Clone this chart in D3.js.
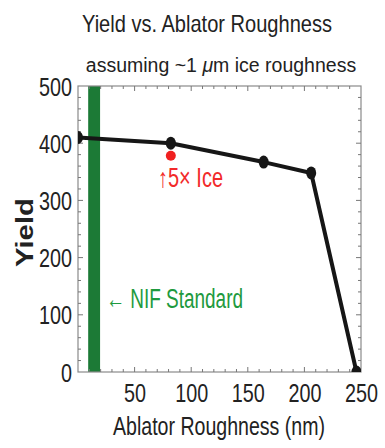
<!DOCTYPE html>
<html>
<head>
<meta charset="utf-8">
<script src="https://cdn.jsdelivr.net/npm/d3@7"></script>
<style>
  body { margin: 0; background: #fff; }
  text { font-family: "Liberation Sans", Arial, sans-serif; }
</style>
</head>
<body>
<svg id="chart" width="385" height="448"></svg>
<script>
// data
const roughness = [0, 82, 164, 206, 246];      // nm
const yieldVals = [410, 400, 367, 348, 0];
const iceX = [82];                              // red point, 5x ice
const iceY = [378];
const nifBand = [9, 19.5];                      // NIF standard band (nm)
const xTicks = [50, 100, 150, 200, 250];
const yTicks = [0, 100, 200, 300, 400, 500];

const margin = { top: 86, right: 24, bottom: 76, left: 78 };
const width = 385, height = 448;

const svg = d3.select("#chart");

const x = d3.scaleLinear()
  .domain([0, 250])
  .range([margin.left, width - margin.right]);

const y = d3.scaleLinear()
  .domain([0, 500])
  .range([height - margin.bottom, margin.top]);

// condensed text helper: squeeze to a measured width
const label = (xp, yp, size, w, str) => svg.append("text")
  .attr("x", xp).attr("y", yp)
  .attr("font-size", size)
  .attr("fill", "#222")
  .attr("textLength", w).attr("lengthAdjust", "spacingAndGlyphs")
  .text(str);

// titles
label(82, 32, 24, 250, "Yield vs. Ablator Roughness");
const sub = svg.append("text")
  .attr("x", 221).attr("y", 72)
  .attr("text-anchor", "middle")
  .attr("font-size", 19.5)
  .attr("fill", "#222");
sub.append("tspan").text("assuming ~1 ");
sub.append("tspan").attr("font-style", "italic").text("\u03bc");
sub.append("tspan").text("m ice roughness");

svg.append("defs").append("clipPath").attr("id", "plot")
  .append("rect")
  .attr("x", margin.left).attr("y", margin.top - 10)
  .attr("width", width - margin.left - margin.right)
  .attr("height", height - margin.top - margin.bottom + 10);

// NIF band
svg.append("rect")
  .attr("x", x(nifBand[0]))
  .attr("y", y(500))
  .attr("width", x(nifBand[1]) - x(nifBand[0]))
  .attr("height", y(0) - y(500))
  .attr("fill", "#1c7a36");

// frame
svg.append("rect")
  .attr("x", margin.left).attr("y", margin.top)
  .attr("width", width - margin.left - margin.right)
  .attr("height", height - margin.top - margin.bottom)
  .attr("fill", "none")
  .attr("stroke", "#8a8a8a")
  .attr("stroke-width", 1.2);

// inner ticks on all sides
const ticksG = svg.append("g").attr("stroke", "#777").attr("stroke-width", 1);
d3.range(10, 250, 10).forEach(v => {
  const len = v % 50 === 0 ? 5 : 3;
  ticksG.append("line").attr("x1", x(v)).attr("x2", x(v)).attr("y1", y(0)).attr("y2", y(0) - len);
  ticksG.append("line").attr("x1", x(v)).attr("x2", x(v)).attr("y1", y(500)).attr("y2", y(500) + len);
});
d3.range(20, 500, 20).forEach(v => {
  const len = v % 100 === 0 ? 5 : 3;
  ticksG.append("line").attr("y1", y(v)).attr("y2", y(v)).attr("x1", x(0)).attr("x2", x(0) + len);
  ticksG.append("line").attr("y1", y(v)).attr("y2", y(v)).attr("x1", x(250)).attr("x2", x(250) - len);
});

// axes labels via d3 axes (no domain / tick lines)
const xAxis = svg.append("g")
  .attr("transform", `translate(0,${y(0)})`)
  .call(d3.axisBottom(x).tickValues(xTicks).tickSize(0).tickPadding(30));
const yAxis = svg.append("g")
  .attr("transform", `translate(${x(0)},0)`)
  .call(d3.axisLeft(y).tickValues(yTicks).tickSize(0).tickPadding(6));
[xAxis, yAxis].forEach(g => {
  g.select(".domain").remove();
  g.selectAll("text")
    .attr("font-family", "Liberation Sans, Arial, sans-serif")
    .attr("font-size", 25)
    .attr("fill", "#222")
    .attr("textLength", d => String(d).length * 11)
    .attr("lengthAdjust", "spacingAndGlyphs");
});
xAxis.selectAll("text").attr("dy", 0);
yAxis.selectAll("text").attr("dy", "0.36em");

label(113, 435, 25, 212, "Ablator Roughness (nm)");

svg.append("text")
  .attr("transform", "translate(33,267) rotate(-90)")
  .attr("font-size", 24)
  .attr("font-weight", "bold")
  .attr("fill", "#222")
  .attr("textLength", 69).attr("lengthAdjust", "spacingAndGlyphs")
  .text("Yield");

// series line + markers, clipped to the frame
const plotG = svg.append("g").attr("clip-path", "url(#plot)");
const pts = roughness.map((r, i) => [r, yieldVals[i]]);
plotG.append("path")
  .datum(pts)
  .attr("fill", "none")
  .attr("stroke", "#161616")
  .attr("stroke-width", 4)
  .attr("stroke-linejoin", "round")
  .attr("d", d3.line().x(d => x(d[0])).y(d => y(d[1])));

plotG.selectAll("ellipse.pt")
  .data(pts)
  .join("ellipse")
  .attr("class", "pt")
  .attr("cx", d => x(d[0]))
  .attr("cy", d => y(d[1]))
  .attr("rx", 5).attr("ry", 6.5)
  .attr("fill", "#161616");

// red 5x ice point
svg.selectAll("circle.ice")
  .data(iceX)
  .join("circle")
  .attr("class", "ice")
  .attr("cx", d => x(d))
  .attr("cy", (d, i) => y(iceY[i]))
  .attr("r", 5)
  .attr("fill", "#f02020");

label(158, 187, 27, 65, "\u21915\u00d7 Ice").attr("fill", "#f22a2a");
label(106, 308, 27, 137, "\u2190 NIF Standard").attr("fill", "#1e9a3e");
</script>
</body>
</html>
